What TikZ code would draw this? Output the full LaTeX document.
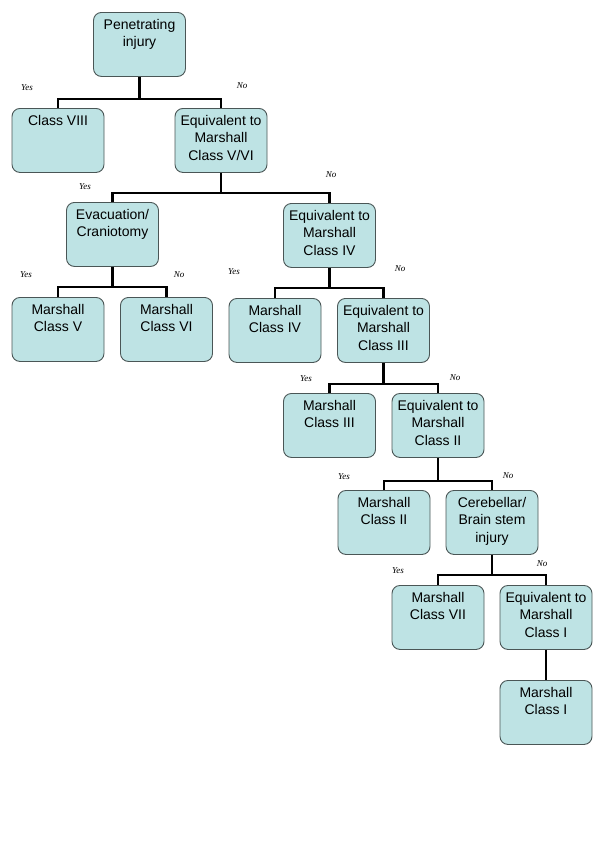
\documentclass[tikz,border=0pt]{standalone}
\usepackage{fontspec}
\setmainfont{Liberation Sans}
\newfontfamily\ynfont{Liberation Serif}
\usetikzlibrary{positioning}
\definecolor{boxfill}{HTML}{BEE3E4}
\definecolor{boxline}{HTML}{4A5656}
\tikzset{cls/.style={draw=boxline,fill=boxfill,rounded corners=8pt,line width=0.9pt,
 minimum width=92pt,minimum height=64pt,anchor=north,label={[txt]north:#1}},
 txt/.style={anchor=north,align=center,font=\fontsize{14}{17.5}\selectfont,inner sep=0pt,yshift=-7pt},
 link/.style={line width=2.5pt,draw=black},
 yn/.style={font=\ynfont\itshape\fontsize{9}{10}\selectfont,inner sep=0pt}}

\begin{document}
\begin{tikzpicture}[x=1pt,y=-1pt]
\useasboundingbox (0,0) rectangle (600,849);
% classification boxes
\node[cls={Penetrating\\injury}] (pen) at (139.5,12) {};
\node[cls={Class VIII}] (c8) at (58,108) {};
\node[cls={Equivalent to\\Marshall\\Class V/VI}] (eq56) at (221,108) {};
\node[cls={Evacuation/\\Craniotomy}] (evac) at (112.5,202) {};
\node[cls={Equivalent to\\Marshall\\Class IV}] (eq4) at (329.5,203) {};
\node[cls={Marshall\\Class V}] (m5) at (58,297) {};
\node[cls={Marshall\\Class VI}] (m6) at (166.5,297) {};
\node[cls={Marshall\\Class IV}] (m4) at (275,298) {};
\node[cls={Equivalent to\\Marshall\\Class III}] (eq3) at (383.5,298) {};
\node[cls={Marshall\\Class III}] (m3) at (329.5,393) {};
\node[cls={Equivalent to\\Marshall\\Class II}] (eq2) at (438,393) {};
\node[cls={Marshall\\Class II}] (m2) at (384,490) {};
\node[cls={Cerebellar/\\Brain stem\\injury}] (cer) at (492,490) {};
\node[cls={Marshall\\Class VII}] (m7) at (438,585) {};
\node[cls={Equivalent to\\Marshall\\Class I}] (eq1) at (546,585) {};
\node[cls={Marshall\\Class I}] (m1) at (546,680) {};
% branches
\foreach \p/\l/\r/\y in {pen/c8/eq56/99,eq56/evac/eq4/193,evac/m5/m6/287,eq4/m4/eq3/288,
 eq3/m3/eq2/384,eq2/m2/cer/481,cer/m7/eq1/575}{
 \draw[link] (\p.south) -- (\p.south |- 0,\y);
 \draw[link] (\l.north) |- (\p.south |- 0,\y) -| (\r.north);
}
\draw[link] (eq1) -- (m1);
% yes / no marks
\foreach \t/\x/\y [count=\i] in {Yes/27/88,No/242/86,Yes/85/187,No/331/175,Yes/26/275,No/179/275,
 Yes/234/272,No/400/269,Yes/306/379,No/455/378,Yes/344/477,No/508/476,Yes/398/571,No/542/564}
 \node[yn] (yn\i) at (\x,\y) {\t};
\end{tikzpicture}
\end{document}
